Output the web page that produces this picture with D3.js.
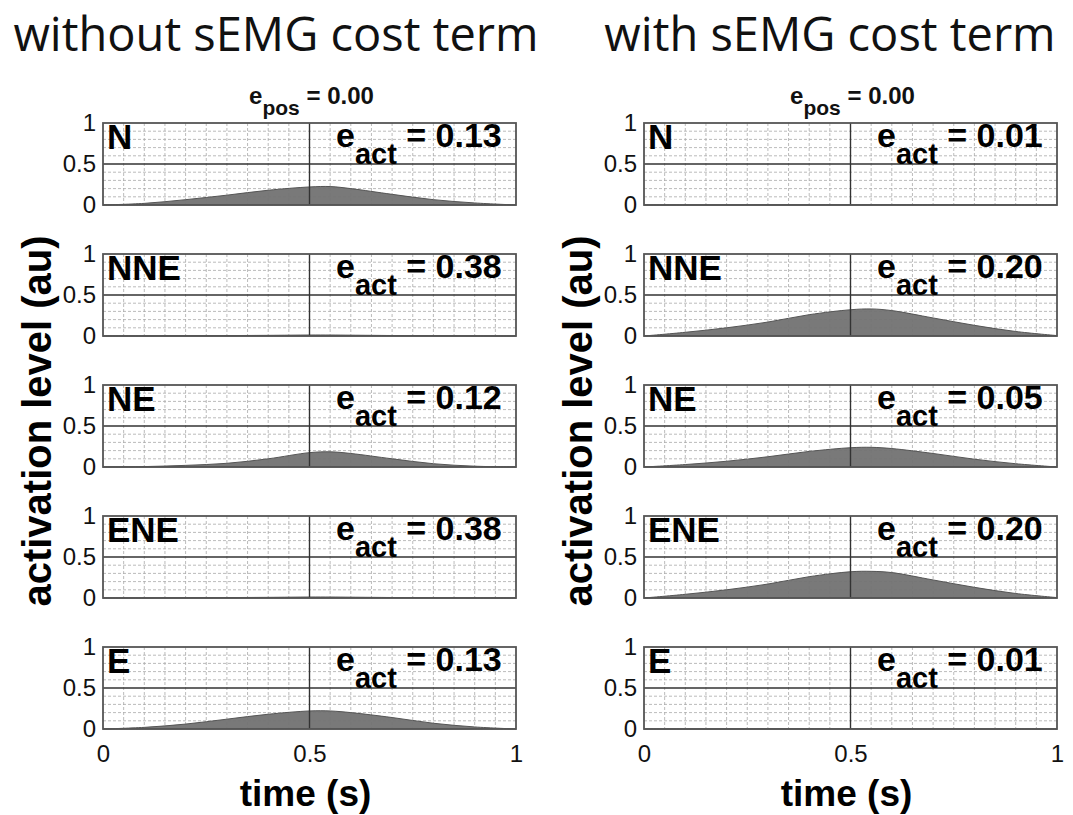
<!DOCTYPE html>
<html>
<head>
<meta charset="utf-8">
<script src="https://cdn.jsdelivr.net/npm/d3@7"></script>
<style>
  body { margin: 0; background: #fff; }
  svg { display: block; }
  .tick text { font-family: "Liberation Sans", Arial, sans-serif; }
</style>
</head>
<body>
<svg id="chart" width="1073" height="815"></svg>
<script>
// ---- data ----
const muscles = ["N", "NNE", "NE", "ENE", "E"];
const timeGrid = [0, 0.1, 0.2, 0.3, 0.4, 0.5, 0.55, 0.6, 0.7, 0.8, 0.9, 1];

// activation level per muscle, without the sEMG cost term
const actWithout = {
  N:   [0, 0.02, 0.065, 0.12, 0.18, 0.22, 0.225, 0.20, 0.13, 0.065, 0.025, 0],
  NNE: [0, 0.001, 0.003, 0.005, 0.008, 0.012, 0.012, 0.01, 0.006, 0.003, 0.001, 0],
  NE:  [0, 0.005, 0.02, 0.045, 0.10, 0.175, 0.185, 0.165, 0.10, 0.04, 0.01, 0],
  ENE: [0, 0.001, 0.003, 0.005, 0.008, 0.012, 0.012, 0.01, 0.006, 0.003, 0.001, 0],
  E:   [0, 0.02, 0.06, 0.12, 0.18, 0.22, 0.22, 0.20, 0.14, 0.07, 0.025, 0]
};
// activation level per muscle, with the sEMG cost term
const actWith = {
  N:   [0, 0.001, 0.001, 0.002, 0.003, 0.003, 0.003, 0.003, 0.002, 0.001, 0.001, 0],
  NNE: [0, 0.045, 0.10, 0.17, 0.26, 0.32, 0.33, 0.31, 0.22, 0.13, 0.055, 0.005],
  NE:  [0, 0.03, 0.07, 0.125, 0.19, 0.235, 0.24, 0.225, 0.165, 0.095, 0.04, 0],
  ENE: [0, 0.045, 0.10, 0.17, 0.26, 0.32, 0.325, 0.31, 0.22, 0.13, 0.055, 0.005],
  E:   [0, 0.001, 0.001, 0.002, 0.003, 0.003, 0.003, 0.003, 0.002, 0.001, 0.001, 0]
};
const eActWithout = ["0.13", "0.38", "0.12", "0.38", "0.13"];
const eActWith    = ["0.01", "0.20", "0.05", "0.20", "0.01"];
const ePos = ["0.00", "0.00"];
const columnTitles = ["without sEMG cost term", "with sEMG cost term"];
const yTicks = [0, 0.5, 1];
const xTicks = [0, 0.5, 1];

// ---- layout ----
const svg = d3.select("#chart");
const colLeft = [103, 644];
const titleCenter = [276, 830];
const panelW = 413;
const panelH = 82;
const rowTop0 = 123;
const rowStep = 131;
const bold = "'Liberation Sans', Arial, sans-serif";

const x = d3.scaleLinear().domain([0, 1]).range([0, panelW]);
const y = d3.scaleLinear().domain([0, 1]).range([panelH, 0]);

const area = d3.area()
  .x((d, i) => x(timeGrid[i]))
  .y0(y(0))
  .y1(d => y(d))
  .curve(d3.curveCatmullRom.alpha(0.5));

const columns = [
  {title: columnTitles[0], data: actWithout, err: eActWithout, pos: ePos[0]},
  {title: columnTitles[1], data: actWith, err: eActWith, pos: ePos[1]}
];

columns.forEach((col, c) => {
  const left = colLeft[c];
  const cx = left + panelW / 2;

  // column title
  svg.append("text")
    .attr("x", titleCenter[c]).attr("y", 51)
    .attr("text-anchor", "middle")
    .style("font-family", "'Open Sans', sans-serif")
    .style("font-size", "47px")
    .attr("fill", "#111")
    .text(col.title);

  // e_pos title
  const tp = svg.append("text")
    .attr("x", cx + 2).attr("y", 104)
    .attr("text-anchor", "middle")
    .style("font-family", bold).style("font-weight", "bold")
    .style("font-size", "24px").attr("fill", "#111");
  tp.append("tspan").text("e");
  tp.append("tspan").attr("dy", 11).style("font-size", "21px").text("pos");
  tp.append("tspan").attr("dy", -11).text(" = " + col.pos);

  muscles.forEach((m, r) => {
    const top = rowTop0 + r * rowStep;
    const g = svg.append("g").attr("transform", `translate(${left},${top})`);

    g.append("rect").attr("width", panelW).attr("height", panelH).attr("fill", "#fff");

    // minor grid
    g.append("g").selectAll("line").data(x.ticks(20).filter(t => t % 0.5 !== 0))
      .join("line")
      .attr("x1", d => x(d)).attr("x2", d => x(d)).attr("y1", 0).attr("y2", panelH)
      .attr("stroke", "#aaa").attr("stroke-width", 0.8).attr("stroke-dasharray", "3,2");
    g.append("g").selectAll("line").data(y.ticks(10).filter(t => t % 0.5 !== 0))
      .join("line")
      .attr("y1", d => y(d)).attr("y2", d => y(d)).attr("x1", 0).attr("x2", panelW)
      .attr("stroke", "#aaa").attr("stroke-width", 0.8).attr("stroke-dasharray", "3,2");

    // activation area
    g.append("path")
      .datum(col.data[m])
      .attr("d", area)
      .attr("fill", "#727272")
      .attr("fill-opacity", 0.95)
      .attr("stroke", "#555")
      .attr("stroke-width", 1);

    // major grid
    g.append("line").attr("x1", x(0.5)).attr("x2", x(0.5)).attr("y1", 0).attr("y2", panelH)
      .attr("stroke", "#333").attr("stroke-width", 1.4);
    g.append("line").attr("y1", y(0.5)).attr("y2", y(0.5)).attr("x1", 0).attr("x2", panelW)
      .attr("stroke", "#333").attr("stroke-width", 1.4);

    // frame
    g.append("rect").attr("width", panelW).attr("height", panelH)
      .attr("fill", "none").attr("stroke", "#555").attr("stroke-width", 1.8);

    // y axis
    const ya = g.append("g")
      .call(d3.axisLeft(y).tickValues(yTicks).tickSize(0).tickPadding(7).tickFormat(d3.format("")));
    ya.select(".domain").remove();
    ya.selectAll("text").style("font-size", "24px").attr("fill", "#111");

    // x axis only on bottom row
    if (r === muscles.length - 1) {
      const xa = g.append("g").attr("transform", `translate(0,${panelH})`)
        .call(d3.axisBottom(x).tickValues(xTicks).tickSize(0).tickPadding(16).tickFormat(d3.format("")));
      xa.select(".domain").remove();
      xa.selectAll("text").style("font-size", "24px").attr("fill", "#111");
    }

    // muscle name
    g.append("text")
      .attr("x", 4).attr("y", 26)
      .style("font-family", bold).style("font-weight", "bold").style("font-size", "35px")
      .attr("fill", "#000")
      .text(m);

    // e_act label
    const ta = g.append("text")
      .attr("x", 233).attr("y", 24)
      .style("font-family", bold).style("font-weight", "bold").style("font-size", "34px")
      .attr("fill", "#000");
    ta.append("tspan").text("e");
    ta.append("tspan").attr("dy", 17).style("font-size", "29px").text("act");
    ta.append("tspan").attr("dy", -17).text(" = " + col.err[r]);
  });

  // x axis label
  svg.append("text")
    .attr("x", cx - 4).attr("y", 806)
    .attr("text-anchor", "middle")
    .style("font-family", bold).style("font-weight", "bold").style("font-size", "37px")
    .attr("fill", "#000")
    .text("time (s)");

  // y axis label
  const midY = rowTop0 + (4 * rowStep + panelH) / 2;
  svg.append("text")
    .attr("transform", `translate(${left - 52},${midY - 5}) rotate(-90)`)
    .attr("text-anchor", "middle")
    .style("font-family", bold).style("font-weight", "bold").style("font-size", "40px")
    .attr("fill", "#000")
    .text("activation level (au)");
});
</script>
</body>
</html>
